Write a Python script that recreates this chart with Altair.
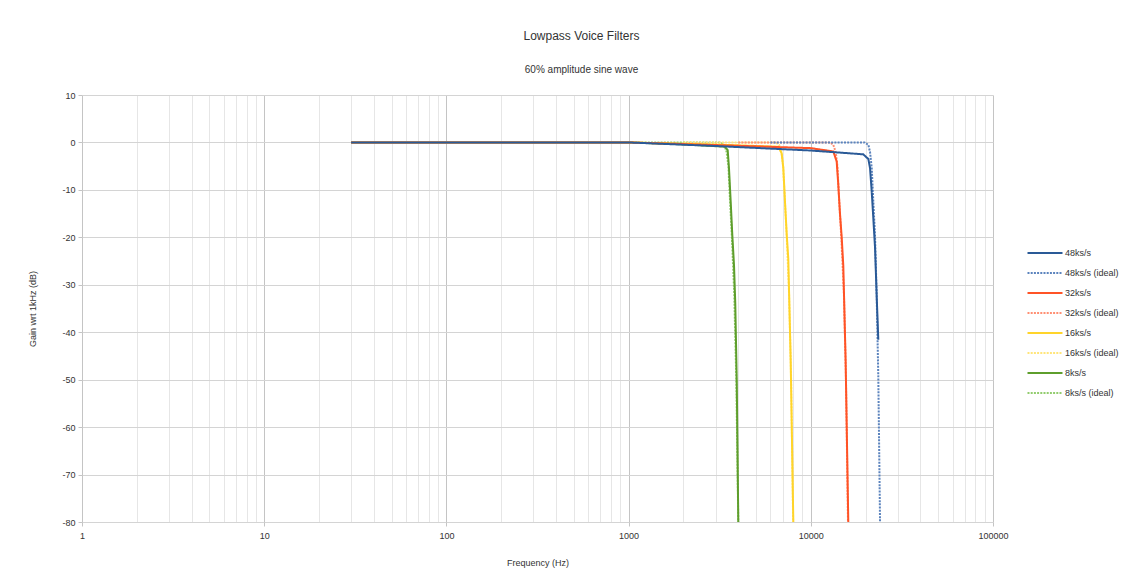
import altair as alt
import pandas as pd

# ---- data ----
series_names = ["48ks/s", "48ks/s (ideal)", "32ks/s", "32ks/s (ideal)",
                "16ks/s", "16ks/s (ideal)", "8ks/s", "8ks/s (ideal)"]
series_colors = ["#2a5a97", "#5b83bd", "#ff5326", "#ff8f73",
                 "#ffd42a", "#ffe57a", "#5e9e2c", "#92cc6e"]
series_dash = [[1, 0], [2, 1.2], [1, 0], [2, 1.2], [1, 0], [2, 1.2], [1, 0], [2, 1.2]]

f_48 = [30, 1000, 3000, 10000, 19400, 20700, 21140, 21600, 22040, 22510, 23000, 23470]
g_48 = [0, 0, -0.75, -1.7, -2.5, -3.5, -5.4, -10.4, -16, -22, -32.5, -41.6]

f_48i = [6000, 19740, 20690, 21140, 21600, 22040, 22510, 23000, 23470, 23990]
g_48i = [0, 0, -0.5, -2, -5.4, -12.5, -19.5, -32.5, -49.4, -80]

f_32 = [30, 1000, 3000, 10000, 13290, 13870, 14160, 14460, 14780, 15080, 15530, 16060]
g_32 = [0, 0, -0.55, -1.2, -1.9, -4, -9, -15, -20, -26, -46, -80]

f_32i = [4000, 12800, 13290, 13700, 14000, 14300, 14700, 15200, 15600, 16000]
g_32i = [0, 0, -0.5, -2, -5, -12, -20, -32, -50, -80]

f_16 = [30, 1000, 3000, 6630, 6920, 7066, 7217, 7379, 7524, 7756, 8017]
g_16 = [0, 0, -0.45, -0.9, -2.3, -5.4, -12.5, -19.5, -24.5, -46, -80]

f_16i = [2000, 6400, 6700, 6900, 7050, 7200, 7380, 7600, 7800, 8000]
g_16i = [0, 0, -0.5, -2, -5, -12, -20, -32, -50, -80]

f_8 = [30, 1000, 2000, 3381, 3498, 3556, 3634, 3708, 3790, 3850, 3925, 4000]
g_8 = [0, 0, -0.4, -0.9, -1.6, -5.4, -12.5, -19.5, -26, -34, -51, -80]

f_8i = [1000, 3200, 3350, 3450, 3530, 3600, 3690, 3800, 3900, 4000]
g_8i = [0, 0, -0.5, -2, -5, -12, -20, -32, -50, -80]

freqs = [f_48, f_48i, f_32, f_32i, f_16, f_16i, f_8, f_8i]
gains = [g_48, g_48i, g_32, g_32i, g_16, g_16i, g_8, g_8i]

x_ticks = [m * 10 ** k for k in range(0, 5) for m in range(1, 10)] + [100000]
y_ticks = list(range(-80, 11, 10))

rows = []
for name, fs, gs in zip(series_names, freqs, gains):
    for i, (f, g) in enumerate(zip(fs, gs)):
        rows.append({"series": name, "freq": f, "gain": g, "idx": i})
df = pd.DataFrame(rows)

FONT = "Liberation Sans"
major_test = "indexof([1,10,100,1000,10000,100000], datum.value) >= 0"

x_enc = alt.X(
    "freq:Q",
    scale=alt.Scale(type="log", domain=[1, 100000], nice=False),
    axis=alt.Axis(
        values=x_ticks,
        title="Frequency (Hz)",
        labelExpr=f"{major_test} ? format(datum.value, 'd') : ''",
        gridColor={"condition": {"test": major_test, "value": "#c4c4c4"}, "value": "#e6e6e6"},
        tickColor={"condition": {"test": major_test, "value": "#c4c4c4"}, "value": "transparent"},
        tickSize=4,
        labelPadding=5,
        domain=False,
        titleY=40,
        titleBaseline="middle",
        labelFlush=False,
    ),
)
y_enc = alt.Y(
    "gain:Q",
    scale=alt.Scale(domain=[-80, 10], nice=False),
    axis=alt.Axis(
        values=y_ticks,
        title="Gain wrt 1kHz (dB)",
        labelExpr="toString(datum.value)",
        gridColor="#d4d4d4",
        tickColor="#c4c4c4",
        tickSize=4,
        labelPadding=3,
        domain=False,
        titleX=-50,
        titleY=213.5,
        titleAlign="center",
        titleBaseline="middle",
    ),
)
legend_kw = dict(
    title=None,
    orient="none",
    legendX=957,
    legendY=152,
    symbolType="M-3.5,0H3.5",
    symbolSize=100,
    symbolStrokeWidth=2,
    labelOffset=14,
    rowPadding=9,
    labelFontSize=9,
    labelFont=FONT,
    labelColor="#333333",
)
color_enc = alt.Color(
    "series:N",
    scale=alt.Scale(domain=series_names, range=series_colors),
    sort=series_names,
    legend=alt.Legend(**legend_kw),
)
dash_enc = alt.StrokeDash(
    "series:N",
    scale=alt.Scale(domain=series_names, range=series_dash),
    sort=series_names,
    legend=alt.Legend(**legend_kw),
)

base = alt.Chart(df).mark_line(strokeWidth=2, clip=True).encode(
    x=x_enc, y=y_enc, color=color_enc, strokeDash=dash_enc, order="idx:Q"
)

draw_order = list(reversed(series_names))
layers = [base.transform_filter(alt.datum.series == s) for s in draw_order]

chart = alt.layer(*layers).properties(
    width=911,
    height=427,
    autosize=alt.AutoSizeParams(type="none"),
    padding={"left": 74, "top": 87, "right": 146, "bottom": 50},
    title=alt.TitleParams(
        "Lowpass Voice Filters",
        subtitle="60% amplitude sine wave",
        font=FONT,
        fontSize=12,
        fontWeight="normal",
        color="#333333",
        subtitleFont=FONT,
        subtitleFontSize=10,
        subtitleColor="#333333",
        subtitlePadding=22,
        offset=15,
        dx=44,
        anchor="middle",
    ),
).configure_view(stroke=None).configure_axis(
    labelFont=FONT,
    labelFontSize=9,
    labelColor="#333333",
    titleFont=FONT,
    titleFontSize=9,
    titleFontWeight="normal",
    titleColor="#333333",
)

chart.save("out.html", embed_options={"renderer": "svg", "actions": False})
